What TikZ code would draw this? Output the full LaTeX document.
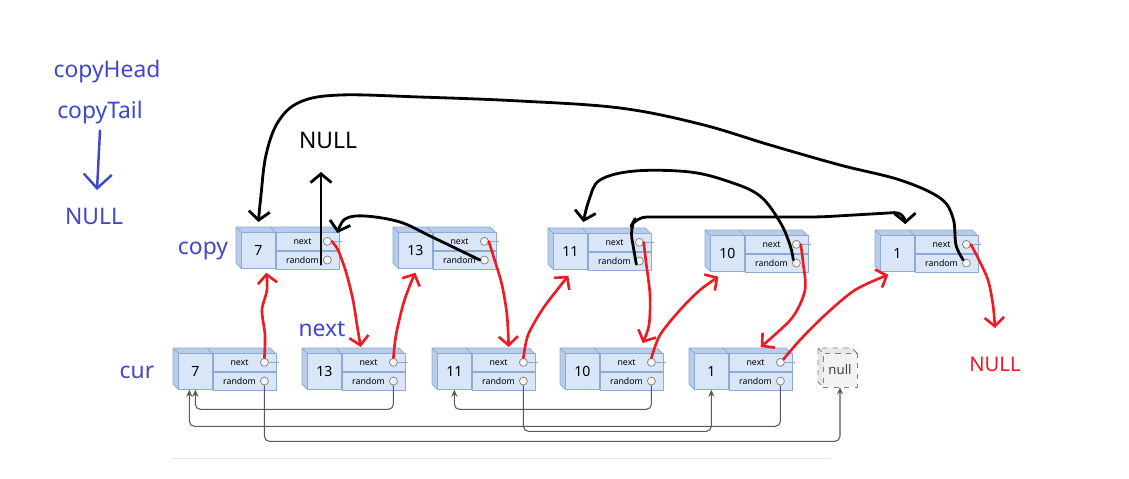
\documentclass[tikz,border=0pt]{standalone}
\usepackage{fontspec}
\setmainfont{Noto Sans}
\usepackage{xcolor}
\definecolor{penblue}{HTML}{3F48CC}
\definecolor{penred}{HTML}{ED1C24}
\definecolor{boxfill}{HTML}{D9E6F8}
\definecolor{boxline}{HTML}{8EA9D4}
\definecolor{boxshade}{HTML}{B9CCEA}
\usetikzlibrary{
  arrows.meta,
  positioning
}

% one list node: name, x, y (top left corner), value
\newcommand{\listnode}[4]{%
  \fill[boxshade] (#2,#3) -- ++(97,0) -- ++(5,5) -- ++(-97,0) -- ++(0,36) -- ++(-5,-5) -- cycle;
  \draw[boxedge] (#2,#3) -- ++(97,0) -- ++(5,5);
  \draw[boxedge] (#2,#3) -- ++(5,5);
  \draw[boxedge] (#2,#3) -- ++(0,36) -- ++(5,5);
  \draw[boxedge] (#2,#3) ++(34,0) -- ++(5,5);
  \path (#2,#3) ++(5,5) node[valcell] (#1-val) {#4};
  \node[fieldcell] (#1-nx) at (#1-val.north east) {};
  \node[fieldcell] (#1-rd) at (#1-nx.south west) {};
  \node[fieldtext] (#1-nxt) at ([xshift=-0.1cm]#1-nx.center) {next};
  \node[fieldtext] (#1-rdt) at ([xshift=-0.1cm]#1-rd.center) {random};
  \node[port] (#1-next) at ([xshift=-0.24cm]#1-nx.east) {};
  \node[port] (#1-rand) at ([xshift=-0.24cm]#1-rd.east) {};
  \draw[boxedge] (#1-next.east) -- ++(10,0);
}

\begin{document}
\begin{tikzpicture}[x=0.02cm, y=-0.02cm,
  boxedge/.style={draw=boxline, line width=0.5pt},
  valcell/.style={rectangle, anchor=north west, draw=boxline, fill=boxfill, minimum width=0.68cm, minimum height=0.72cm, inner sep=0pt, font=\fontsize{8}{9}\selectfont},
  fieldcell/.style={rectangle, anchor=north west, draw=boxline, fill=boxfill, minimum width=1.26cm, minimum height=0.36cm, inner sep=0pt},
  fieldtext/.style={inner sep=0pt, font=\fontsize{5}{6}\selectfont},
  port/.style={circle, draw=gray, fill=gray!8, minimum size=0.16cm, inner sep=0pt},
  nullbox/.style={rectangle, draw=gray, dashed, fill=gray!10, minimum width=0.68cm, minimum height=0.68cm, inner sep=0pt, font=\fontsize{7.5}{9}\selectfont, text=black!75},
  handlabel/.style={inner sep=1pt, text=penblue, font=\fontsize{13}{15}\selectfont},
  ptr/.style={-{Stealth[length=4pt,width=3.5pt]}, draw=black!65, line width=0.6pt, rounded corners=3pt},
  blackpen/.style={-{Straight Barb[length=5pt,width=12pt]}, line width=1.6pt, line cap=round, line join=round},
  redpen/.style={-{Straight Barb[length=5pt,width=11pt]}, draw=penred, line width=1.5pt, line cap=round, line join=round},
  bluepen/.style={-{Straight Barb[length=8pt,width=16pt]}, draw=penblue, line width=1.4pt, line cap=round},
]
\fill[white] (0,0) rectangle (1129,478);
\useasboundingbox (0,0) rectangle (1129,478);

% labels
\node[handlabel] (chead) at (107,72) {copyHead};
\node[handlabel] (ctail) at (100,113) {copyTail};
\node[handlabel] (nullblue) at (94,216) {NULL};
\node[handlabel] (copylbl) at (203,251) {copy};
\node[handlabel] (nextlbl) at (322,329) {next};
\node[handlabel] (curlbl) at (137,372) {cur};
\node[inner sep=1pt, font=\fontsize{13}{15}\selectfont] (nullblack) at (328,140) {NULL};
\node[inner sep=1pt, text=penred, font=\fontsize{11.5}{14}\selectfont] (nullred) at (995,364) {NULL};

% original list
\listnode{cur7}{173}{348}{7}
\listnode{cur13}{302}{348}{13}
\listnode{cur11}{432}{348}{11}
\listnode{cur10}{560}{348}{10}
\listnode{cur1}{689}{348}{1}
\fill[gray!18] (818,348) -- (852,348) -- (857,353) -- (823,353) -- (823,387) -- (818,382) -- cycle;
\draw[gray, dashed, line width=0.5pt] (857,353) -- (852,348) -- (818,348) -- (818,382) -- (823,387);
\draw[gray, dashed, line width=0.5pt] (818,348) -- (823,353);
\node[nullbox] (nul) at (840,370) {null};

% copied list
\listnode{copy7}{236}{227}{7}
\listnode{copy13}{393}{227}{13}
\listnode{copy11}{548}{228}{11}
\listnode{copy10}{705}{230}{10}
\listnode{copy1}{875}{230}{1}

% random pointers of the original list
\draw[ptr] (cur13-rand.south) -- ++(0,24) -| (cur7-val.south);
\draw[ptr] (cur1-rand.south) -- ++(0,41) -| ([xshift=-0.12cm]cur7-val.south);
\draw[ptr] (cur7-rand.south) -- ++(0,56) -| (nul.south);
\draw[ptr] (cur10-rand.south) -- ++(0,24) -| (cur11-val.south);
\draw[ptr] (cur11-rand.south) -- ++(0,46) -| (cur1-val.south);
\draw[gray!20] (172,458) -- (830,458);

% free ends
\coordinate (bluetip) at (97,190);
\coordinate (nullfoot) at (321,172);
\coordinate (redtip) at (995,328);

\draw[bluepen] ([yshift=-0.08cm]ctail.south) -- (bluetip);

% random pointers of the copy (black)
\draw[blackpen] plot[smooth, tension=0.6] coordinates {(copy1-rand.north west) (956,245) (953,218) (940,198) (900,180) (840,165) (770,145) (700,124) (620,108) (520,101) (420,97) (340,95) (300,102) (278,122) (266,155) (261,195) ([yshift=0.2cm]copy7-val.north)};
\draw[blackpen] plot[smooth, tension=0.6] coordinates {(copy10-rand.north west) (790,245) (780,222) (760,196) (730,182) (690,172) (635,171) (600,180) (589,200) ([xshift=0.26cm,yshift=0.22cm]copy11-val.north)};
\draw[blackpen, rounded corners=6pt] (copy11-rand.south west) -- (630,228) -- (636,217) -- (820,217) -- (905,212) -- ([xshift=0.16cm,yshift=0.22cm]copy1-val.north);
\draw[blackpen] (copy7-rand.south -| nullfoot) -- (nullfoot);
\draw[blackpen] plot[smooth, tension=0.6] coordinates {(copy13-rand.west) (455,248) (430,236) (400,222) (365,216) (345,219) ([xshift=0.2cm,yshift=0.08cm]copy7-next.north)};

% red: cur.next -> copy, copy.next -> cur.next
\draw[redpen] plot[smooth] coordinates {(cur7-next.north) (265,335) (262,310) (267,290) ([xshift=0.16cm,yshift=-0.08cm]copy7-val.south)};
\draw[redpen] plot[smooth] coordinates {(cur13-next.north) (396,335) (403,305) (410,285) ([yshift=-0.08cm]copy13-val.south)};
\draw[redpen] plot[smooth] coordinates {(cur11-next.north) (528,335) (542,310) (557,290) ([xshift=-0.04cm,yshift=-0.12cm]copy11-val.south)};
\draw[redpen] plot[smooth] coordinates {(cur10-next.north) (660,335) (680,310) (700,290) ([xshift=-0.18cm,yshift=-0.1cm]copy10-val.south)};
\draw[redpen] plot[smooth] coordinates {(cur1-next.north east) (800,340) (825,315) (855,290) ([xshift=-0.18cm,yshift=-0.06cm]copy1-val.south)};

\draw[redpen] plot[smooth] coordinates {(copy7-next.east) (338,250) (346,272) (353,300) (357,325) ([xshift=0.38cm,yshift=0.12cm]cur13-nx.north west)};
\draw[redpen] plot[smooth] coordinates {(copy13-next.east) (494,258) (502,285) (507,315) ([xshift=0.74cm,yshift=0.12cm]cur11-nx.north west)};
\draw[redpen] plot[smooth] coordinates {(copy11-next.east) (646,262) (650,295) (649,325) ([xshift=0.86cm,yshift=0.2cm]cur10-nx.north west)};
\draw[redpen] plot[smooth] coordinates {(copy10-next.east) (803,262) (805,290) (792,318) ([xshift=0.64cm,yshift=0.12cm]cur1-nx.north west)};
\draw[redpen] plot[smooth] coordinates {(copy1-next.east) (978,258) (988,280) (993,305) (redtip)};

\end{tikzpicture}
\end{document}
